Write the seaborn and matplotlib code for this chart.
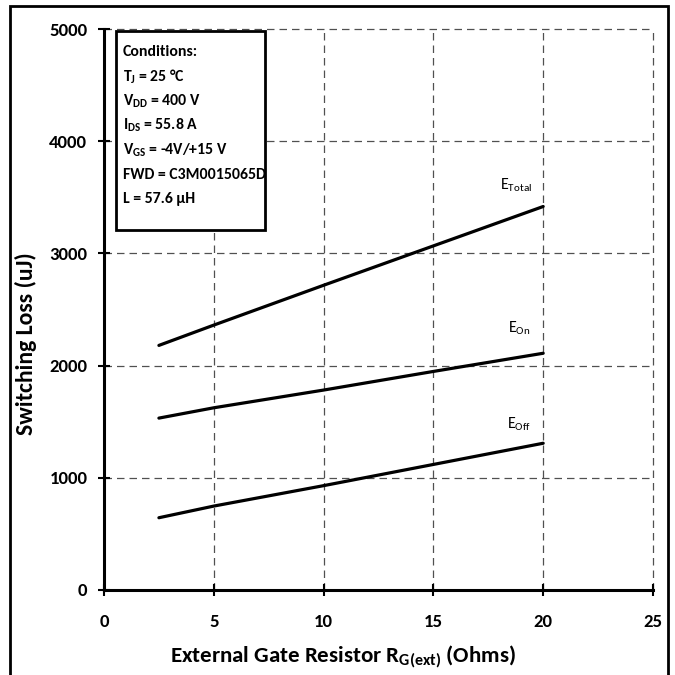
import matplotlib
matplotlib.use("Agg")
import matplotlib.pyplot as plt
import seaborn as sns
import pandas as pd
from matplotlib.patches import Rectangle

rg = [2.5, 5, 10, 15, 20]
e_total = [2180, 2361, 2716, 3067, 3418]
e_on = [1532, 1624, 1782, 1948, 2110]
e_off = [644, 748, 930, 1119, 1308]
series_names = ["E$_{\\mathregular{Total}}$", "E$_{\\mathregular{On}}$", "E$_{\\mathregular{Off}}$"]
label_pos = [(18.75, 3570), (18.9, 2295), (18.9, 1440)]
conditions = ["Conditions:", "T$_{\\mathregular{J}}$ = 25 °C", "V$_{\\mathregular{DD}}$ = 400 V",
              "I$_{\\mathregular{DS}}$ = 55.8 A", "V$_{\\mathregular{GS}}$ = -4V/+15 V",
              "FWD = C3M0015065D", "L = 57.6 µH"]
xticks = [0, 5, 10, 15, 20, 25]
yticks = [0, 1000, 2000, 3000, 4000, 5000]

sns.set_theme(style="white")
FONT = ["Carlito", "DejaVu Sans"]
plt.rcParams["font.family"] = FONT
plt.rcParams["font.weight"] = "bold"
plt.rcParams["text.color"] = "black"
plt.rcParams["axes.labelcolor"] = "black"
plt.rcParams["xtick.color"] = "black"
plt.rcParams["ytick.color"] = "black"
plt.rcParams["mathtext.fontset"] = "custom"
plt.rcParams["mathtext.rm"] = "Carlito:bold"
plt.rcParams["mathtext.it"] = "Carlito:bold"
plt.rcParams["mathtext.bf"] = "Carlito:bold"

df = pd.concat([
    pd.DataFrame({"Rg": rg, "E": e_total, "s": "total"}),
    pd.DataFrame({"Rg": rg, "E": e_on, "s": "on"}),
    pd.DataFrame({"Rg": rg, "E": e_off, "s": "off"}),
])

fig = plt.figure(figsize=(6.75, 6.75), dpi=100)
ax = fig.add_axes([104/675, 1 - 590/675, (653-104)/675, (590-29)/675])
sns.lineplot(data=df, x="Rg", y="E", units="s", estimator=None, color="black",
             linewidth=2.3, ax=ax, legend=False)

ax.set_xlim(0, 25)
ax.set_ylim(0, 5000)
ax.set_xticks(xticks)
ax.set_yticks(yticks)
ax.set_xticklabels([str(t) for t in xticks], fontsize=13.5, fontweight="bold")
ax.set_yticklabels([str(t) for t in yticks], fontsize=13.5, fontweight="bold")
ax.grid(True, linestyle=(0, (6, 4)), color="#505050", linewidth=0.9)
for gl in ax.get_xgridlines() + ax.get_ygridlines():
    gl.set_clip_on(False)
for s in ["top", "right"]:
    ax.spines[s].set_visible(False)
for s in ["left", "bottom"]:
    ax.spines[s].set_color("black")
    ax.spines[s].set_linewidth(2.2)
ax.tick_params(axis="both", direction="inout", length=8, width=1.5, color="black",
               left=True, bottom=True, labelcolor="black")
ax.tick_params(axis="x", pad=13)
ax.tick_params(axis="y", pad=8)
ax.set_xlabel("External Gate Resistor R$_{\\mathregular{G(ext)}}$ (Ohms)", fontsize=16.5,
              fontweight="bold", color="black")
ax.set_ylabel("Switching Loss (uJ)", fontsize=17, fontweight="bold", color="black")
ax.xaxis.set_label_coords(0.435, -0.095)
ax.yaxis.set_label_coords(-0.122, 0.44)

for name, (lx, ly) in zip(series_names, label_pos):
    ax.text(lx, ly, name, fontsize=11.5, ha="center", va="baseline", color="black",
            fontweight="normal")

# conditions box
bx0, by0, bx1, by1 = 116/675, 1 - 230/675, 265/675, 1 - 31/675
fig.patches.append(Rectangle((bx0, by0), bx1 - bx0, by1 - by0, transform=fig.transFigure,
                             facecolor="white", edgecolor="black", linewidth=2.0, zorder=5))
for i, line in enumerate(conditions):
    fig.text(123/675, 1 - (52 + 24.5*i)/675, line, fontsize=11.3, fontweight="bold",
             ha="left", va="center", zorder=6, color="black")

# outer frame
fig.patches.append(Rectangle((10/675, -0.05), (668-10)/675, 1.05 - 6/675,
                             transform=fig.transFigure, facecolor="none",
                             edgecolor="black", linewidth=2, clip_on=False))

fig.savefig("out.png", dpi=100)
